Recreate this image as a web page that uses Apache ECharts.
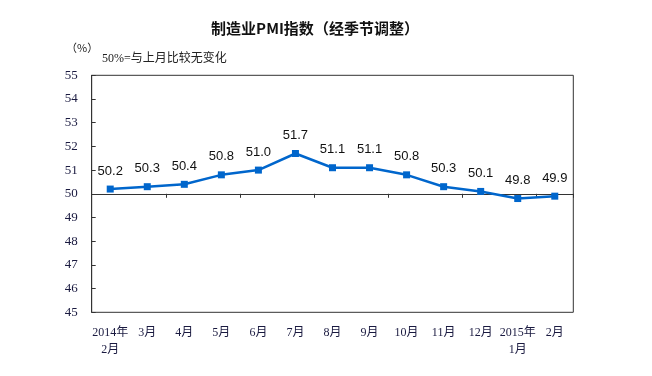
<!DOCTYPE html>
<html>
<head>
<meta charset="utf-8">
<script src="https://cdn.jsdelivr.net/npm/echarts@6/dist/echarts.min.js"></script>
<style>
  html, body { margin: 0; padding: 0; background: #fff; }
  #chart { width: 652px; height: 376px; }
</style>
</head>
<body>
<div id="chart"></div>
<script>
// months, Feb 2014 - Feb 2015
const months = ['2014年\n2月', '3月', '4月', '5月', '6月', '7月', '8月', '9月', '10月', '11月', '12月', '2015年\n1月', '2月'];
const pmi = [50.2, 50.3, 50.4, 50.8, 51.0, 51.7, 51.1, 51.1, 50.8, 50.3, 50.1, 49.8, 49.9];
const yMin = 45;
const yMax = 55;

const gridTop = 75.3;
const gridBottom = 63.7;
const gridHeight = 376 - gridTop - gridBottom;
// the 50 line sits inside the plot, move the tick axis up to it
const midOffset = -gridHeight * (50 - yMin) / (yMax - yMin);

const chart = echarts.init(document.getElementById('chart'));

const option = {
  animation: false,
  backgroundColor: '#fff',
  graphic: [
    {
      type: 'text', x: 315, y: 28,
      style: {
        text: '制造业PMI指数（经季节调整）',
        font: 'bold 15px "Noto Sans CJK SC"',
        fill: '#111',
        textAlign: 'center', textVerticalAlign: 'middle'
      }
    },
    {
      type: 'text', x: 66, y: 48,
      style: {
        text: '（%）',
        font: '11px "Noto Sans CJK SC"',
        fill: '#222',
        textAlign: 'left', textVerticalAlign: 'middle'
      }
    },
    {
      type: 'text', x: 102, y: 59,
      style: {
        text: '50%=与上月比较无变化',
        font: '12px "Liberation Serif", "Noto Sans CJK SC"',
        fill: '#222',
        textAlign: 'left', textVerticalAlign: 'middle'
      }
    }
  ],
  grid: {
    left: 91.7,
    right: 78.7,
    top: gridTop,
    bottom: gridBottom,
    show: true,
    borderColor: '#333',
    borderWidth: 1,
    backgroundColor: 'transparent'
  },
  xAxis: [
    {
      type: 'category',
      data: months,
      boundaryGap: true,
      axisLine: { show: false },
      axisTick: { show: false },
      axisLabel: {
        interval: 0,
        margin: 12,
        lineHeight: 17,
        fontSize: 12,
        fontFamily: '"Liberation Serif", "Noto Sans CJK SC"',
        color: '#1a1a40'
      }
    },
    {
      type: 'category',
      data: months,
      position: 'bottom',
      offset: midOffset,
      boundaryGap: true,
      axisLine: { show: true, lineStyle: { color: '#333', width: 1 } },
      axisTick: { show: true, inside: false, length: 4, lineStyle: { color: '#333' } },
      axisLabel: { show: false },
      splitLine: { show: false }
    }
  ],
  yAxis: {
    type: 'value',
    min: yMin,
    max: yMax,
    interval: 1,
    axisLine: { show: true, lineStyle: { color: '#333' } },
    axisTick: { show: true, inside: true, length: 4, lineStyle: { color: '#333' } },
    splitLine: { show: false },
    axisLabel: {
      margin: 14,
      fontSize: 13,
      fontFamily: '"Liberation Serif"',
      color: '#1a1a40'
    }
  },
  series: [
    {
      type: 'line',
      data: pmi,
      xAxisIndex: 0,
      symbol: 'rect',
      symbolSize: 7,
      lineStyle: { color: '#0066cc', width: 2.5 },
      itemStyle: { color: '#0066cc' },
      label: {
        show: true,
        position: 'top',
        distance: 8,
        fontSize: 13,
        fontFamily: '"Liberation Sans"',
        color: '#111',
        formatter: p => p.value.toFixed(1)
      }
    }
  ]
};

chart.setOption(option);
</script>
</body>
</html>
